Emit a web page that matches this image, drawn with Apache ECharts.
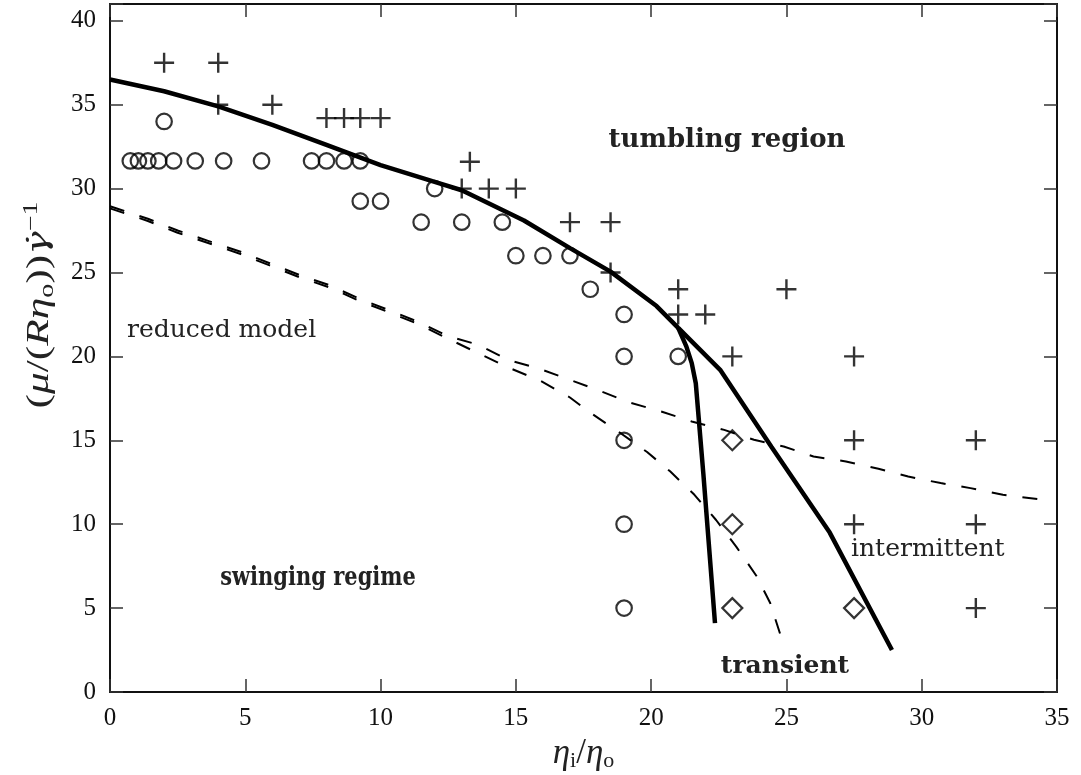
<!DOCTYPE html>
<html>
<head>
<meta charset="utf-8">
<script src="https://cdn.jsdelivr.net/npm/echarts@6/dist/echarts.min.js"></script>
<style>
  html, body { margin: 0; padding: 0; background: #fff; }
  #chart { width: 1081px; height: 775px; }
</style>
</head>
<body>
<div id="chart"></div>
<script>
// 实验点：圆圈 = swinging, 加号 = tumbling, 菱形 = intermittent
var circlePoints = [
  [0.75, 31.65], [1.05, 31.65], [1.4, 31.65], [1.8, 31.65], [2.35, 31.65], [3.15, 31.65],
  [4.2, 31.65], [5.6, 31.65], [7.45, 31.65], [8, 31.65], [8.65, 31.65], [9.25, 31.65],
  [2, 34], [9.25, 29.25], [10, 29.25], [12, 30], [11.5, 28], [13, 28], [14.5, 28],
  [15, 26], [16, 26], [17, 26], [17.75, 24], [19, 22.5], [19, 20], [21, 20],
  [19, 15], [19, 10], [19, 5]
];
var crossPoints = [
  [2, 37.5], [4, 37.5], [4, 35], [6, 35], [8, 34.2], [8.65, 34.2], [9.25, 34.2], [10, 34.2],
  [13.3, 31.6], [13, 30], [14, 30], [15, 30], [17, 28], [18.5, 28], [18.5, 25],
  [21, 24], [25, 24], [21, 22.5], [22, 22.5], [23, 20], [27.5, 20],
  [27.5, 15], [32, 15], [27.5, 10], [32, 10], [32, 5]
];
var diamondPoints = [[23, 15], [23, 10], [23, 5], [27.5, 5]];

// 实线：tumbling 边界 和 transient 分支
var boundaryX = [0, 2, 4, 6, 8, 10, 12, 13, 15.3, 17, 18.5, 20.2, 21, 22.55, 24.45, 26.6, 28.9];
var boundaryY = [36.5, 35.8, 34.9, 33.8, 32.6, 31.4, 30.4, 29.9, 28.1, 26.45, 25.05, 23.0, 21.7, 19.2, 14.6, 9.5, 2.5];
var branchX = [21, 21.3, 21.5, 21.65, 21.93, 22.36];
var branchY = [21.7, 20.6, 19.6, 18.4, 13.0, 4.1];

// 虚线：reduced model
var upperDashX = [0, 1.4, 2.5, 3.6, 4.8, 5.9, 7, 8.1, 9.2, 10.4, 11.4, 12.5, 13.6, 14.7, 15.9, 17, 18.1,
  19.2, 20.4, 21.5, 22.7, 23.8, 24.9, 26, 27.2, 28.4, 29.5, 30.7, 31.8, 33, 34.5];
var upperDashY = [28.95, 28.2, 27.5, 26.9, 26.25, 25.55, 24.85, 24.25, 23.45, 22.7, 22.05, 21.2, 20.7,
  19.8, 19.25, 18.6, 17.95, 17.25, 16.7, 16.12, 15.62, 15.03, 14.63, 14.03, 13.74, 13.3, 12.84,
  12.45, 12.15, 11.75, 11.45];
var lowerDashX = [0, 1.4, 2.5, 3.6, 4.8, 5.9, 7, 8.1, 9.2, 10.4, 11.4, 12.5, 13.6, 14.7, 15.9, 17,
  17.7, 18.85, 19.85, 20.7, 21.6, 22.4, 23.15, 23.9, 24.4, 24.8];
var lowerDashY = [28.82, 28.07, 27.37, 26.77, 26.12, 25.42, 24.72, 24.12, 23.32, 22.57, 21.92, 21.05, 20.2,
  19.35, 18.55, 17.55, 16.7, 15.45, 14.3, 13.15, 11.75, 10.25, 8.65, 6.9, 5.3, 3.3];

function zip(xs, ys) {
  var out = [];
  for (var i = 0; i < xs.length; i++) out.push([xs[i], ys[i]]);
  return out;
}

var tickFont = 'Liberation Serif';
var textColor = '#222';

function axisCommon(showLabel) {
  return {
    type: 'value',
    axisLine: { show: true, onZero: false, lineStyle: { color: '#111', width: 2 } },
    axisTick: { show: true, inside: true, length: 13, lineStyle: { color: '#333', width: 1.5 } },
    splitLine: { show: false },
    axisLabel: {
      show: showLabel,
      margin: 14,
      color: '#111',
      fontFamily: tickFont,
      fontSize: 25,
      formatter: function(v) { return v % 5 === 0 ? String(v) : ''; }
    }
  };
}

var xBottom = axisCommon(true);
xBottom.position = 'bottom';
xBottom.min = 0; xBottom.max = 35; xBottom.interval = 5;
xBottom.name = '{i|η}{s|i}{n|/}{i|η}{s|o}';
xBottom.nameLocation = 'middle';
xBottom.nameGap = 40;
xBottom.nameTextStyle = {
  rich: {
    i: { fontFamily: tickFont, fontStyle: 'italic', fontSize: 35, color: textColor, lineHeight: 38, verticalAlign: 'middle' },
    n: { fontFamily: tickFont, fontSize: 35, color: textColor, lineHeight: 38, verticalAlign: 'middle' },
    s: { fontFamily: tickFont, fontSize: 22, color: textColor, lineHeight: 22, verticalAlign: 'bottom' }
  }
};
var xTop = axisCommon(false);
xTop.position = 'top';
xTop.min = 0; xTop.max = 35; xTop.interval = 5;

var yLeft = axisCommon(true);
yLeft.position = 'left';
yLeft.min = 0; yLeft.max = 41; yLeft.interval = 5;
var yRight = axisCommon(false);
yRight.position = 'right';
yRight.min = 0; yRight.max = 41; yRight.interval = 5;

var myChart = echarts.init(document.getElementById('chart'));

var lineSeries = function(data, width, dash) {
  return {
    type: 'line',
    data: data,
    xAxisIndex: 0,
    yAxisIndex: 0,
    showSymbol: false,
    symbol: 'none',
    silent: true,
    lineStyle: { color: '#000', width: width, type: dash || 'solid' },
    z: 2
  };
};

var hollow = { color: 'rgba(0,0,0,0)', borderColor: '#000', borderWidth: 2.2 };

var option = {
  animation: false,
  backgroundColor: '#fff',
  grid: { left: 110, right: 24, top: 4, bottom: 83, show: false, containLabel: false, outerBoundsMode: 'none' },
  xAxis: [xBottom, xTop],
  yAxis: [yLeft, yRight],
  series: [
    lineSeries(zip(upperDashX, upperDashY), 2, [15, 16]),
    lineSeries(zip(lowerDashX, lowerDashY), 2, [15, 16]),
    lineSeries(zip(boundaryX, boundaryY), 4.5),
    lineSeries(zip(branchX, branchY), 4.5),
    {
      type: 'scatter',
      data: circlePoints,
      symbol: 'circle',
      symbolSize: 15.5,
      itemStyle: hollow,
      z: 3
    },
    {
      type: 'scatter',
      data: crossPoints,
      symbol: 'path://M8.8,0h2.4v8.8h8.8v2.4h-8.8v8.8h-2.4v-8.8h-8.8v-2.4h8.8z',
      symbolSize: 20,
      itemStyle: { color: '#000' },
      z: 3
    },
    {
      type: 'scatter',
      data: diamondPoints,
      symbol: 'diamond',
      symbolSize: [20, 20],
      itemStyle: hollow,
      z: 3
    }
  ],
  graphic: [
    {
      // 纵轴标题，沿阅读方向拉长以贴近原图
      type: 'text', x: 40, y: 305, rotation: Math.PI / 2, scaleX: 1.4,
      style: {
        text: '{n|(}{i|μ}{n|/(}{i|Rη}{s|o}{n|))}{g|γ̇}{p|−1}',
        textAlign: 'center', textVerticalAlign: 'middle',
        rich: {
          n: { fontFamily: tickFont, fontSize: 31, fill: textColor, lineHeight: 36, verticalAlign: 'middle' },
          i: { fontFamily: tickFont, fontStyle: 'italic', fontSize: 31, fill: textColor, lineHeight: 36, verticalAlign: 'middle' },
          g: { fontFamily: 'DejaVu Serif', fontStyle: 'italic', fontSize: 28, fill: textColor, lineHeight: 36, verticalAlign: 'middle' },
          s: { fontFamily: tickFont, fontSize: 20, fill: textColor, lineHeight: 20, verticalAlign: 'bottom' },
          p: { fontFamily: tickFont, fontSize: 20, fill: textColor, lineHeight: 20, verticalAlign: 'top' }
        }
      }
    },
    {
      type: 'text', x: 727, y: 140,
      style: { text: 'tumbling region', font: 'bold 26px "DejaVu Serif"', fill: textColor, textAlign: 'center', textVerticalAlign: 'middle' }
    },
    {
      type: 'text', x: 127, y: 330,
      style: { text: 'reduced model', font: '25px "DejaVu Serif"', fill: textColor, textAlign: 'left', textVerticalAlign: 'middle' }
    },
    {
      type: 'text', x: 318, y: 578, scaleY: 1.25,
      style: { text: 'swinging regime', font: 'bold 21px "DejaVu Serif"', fill: textColor, textAlign: 'center', textVerticalAlign: 'middle' }
    },
    {
      type: 'text', x: 851, y: 549,
      style: { text: 'intermittent', font: '25px "DejaVu Serif"', fill: textColor, textAlign: 'left', textVerticalAlign: 'middle' }
    },
    {
      type: 'text', x: 785, y: 666,
      style: { text: 'transient', font: 'bold 25px "DejaVu Serif"', fill: textColor, textAlign: 'center', textVerticalAlign: 'middle' }
    }
  ]
};

myChart.setOption(option);
</script>
</body>
</html>
